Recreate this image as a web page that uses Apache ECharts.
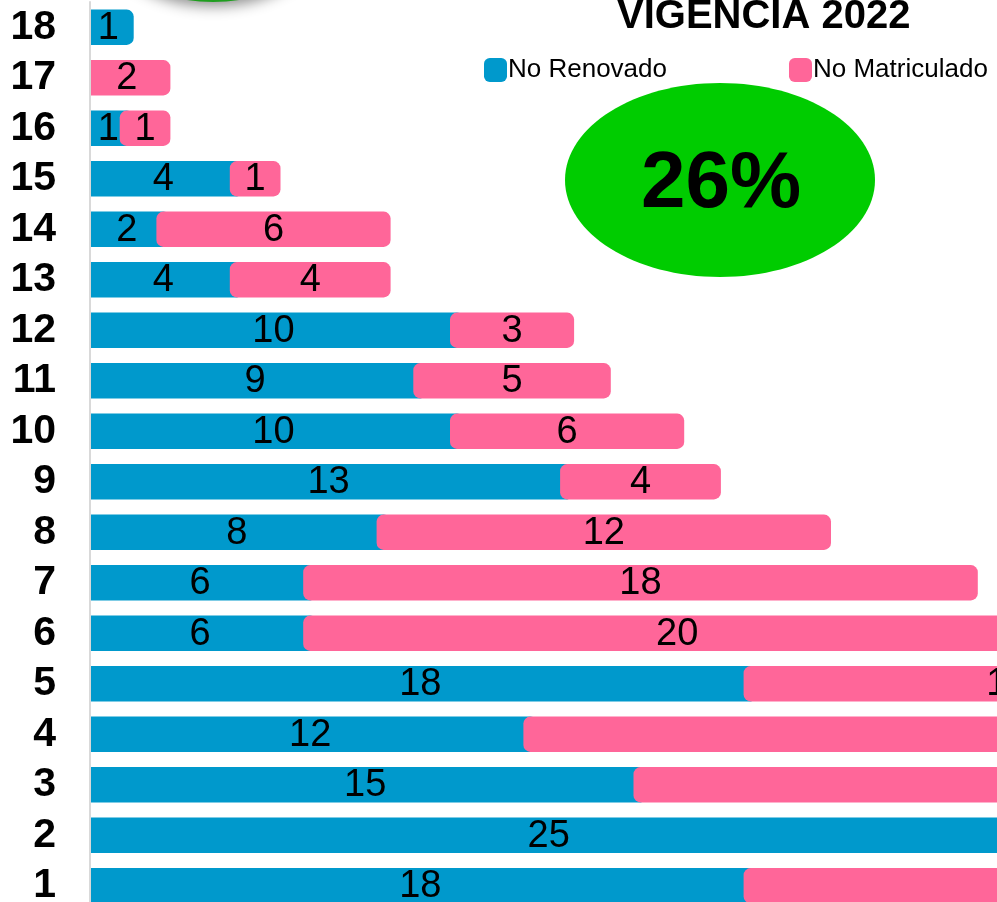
<!DOCTYPE html>
<html>
<head>
<meta charset="utf-8">
<script src="https://cdn.jsdelivr.net/npm/echarts@6/dist/echarts.min.js"></script>
<style>
  html, body { margin: 0; padding: 0; background: #fff; }
  #chart { width: 997px; height: 902px; }
</style>
</head>
<body>
<div id="chart"></div>
<script>
// categories from bottom (1) to top (18)
var categories = ['1','2','3','4','5','6','7','8','9','10','11','12','13','14','15','16','17','18'];
var noRenovado = [18, 25, 15, 12, 18, 6, 6, 8, 13, 10, 9, 10, 4, 2, 4, 1, null, 1];
// values for 1, 3, 4 run off the picture; estimated
var noMatriculado = [17, null, 22, 28, 14, 20, 18, 12, 4, 6, 5, 3, 4, 6, 1, 1, 2, null];
var titleText = 'VIGENCIA 2022';
var percentText = '26%';

var blue = '#0099CC';
var pink = '#FF6699';
var font = '"Liberation Sans", Arial, sans-serif';

// [category index, start, end, value]
function stackData(values, bases) {
  var out = [];
  for (var i = 0; i < values.length; i++) {
    if (values[i] == null) continue;
    var b = bases ? (bases[i] || 0) : 0;
    out.push([i, b, b + values[i], values[i]]);
  }
  return out;
}

function renderBar(color) {
  return function (params, api) {
    var ci = api.value(0), s = api.value(1), e = api.value(2);
    var p0 = api.coord([s, ci]);
    var p1 = api.coord([e, ci]);
    var h = api.size([0, 1])[1] * 0.70;
    // office-style rounded bars spill a few px past their value
    var x0 = s === 0 ? p0[0] : p0[0] - 7;
    var x1 = p1[0] + 7;
    return {
      type: 'group',
      children: [
        {
          type: 'rect',
          shape: { x: x0, y: p0[1] - h / 2, width: x1 - x0, height: h, r: s === 0 ? [0, 7, 7, 0] : 7 },
          style: { fill: color }
        },
        {
          type: 'text',
          x: (p0[0] + p1[0]) / 2,
          y: p0[1] + 1,
          style: {
            text: String(api.value(3)),
            fontFamily: font,
            fontSize: 38,
            fill: '#000',
            align: 'center',
            verticalAlign: 'middle'
          }
        }
      ]
    };
  };
}

var chart = echarts.init(document.getElementById('chart'));

chart.setOption({
  animation: false,
  title: {
    text: titleText,
    left: 612,
    top: -8,
    textStyle: { fontFamily: font, fontSize: 40, fontWeight: 'bold', color: '#000' }
  },
  legend: {
    left: 479,
    top: 52,
    width: 560,
    itemWidth: 23,
    itemHeight: 24,
    itemGap: 122,
    icon: 'roundRect',
    textStyle: { fontFamily: font, fontSize: 26, color: '#000', padding: [0, 0, 0, -4] },
    data: ['No Renovado', 'No Matriculado']
  },
  grid: { left: 90, width: 1101, top: 2, height: 909, containLabel: false, outerBoundsMode: 'none' },
  xAxis: {
    type: 'value',
    min: 0,
    max: 30,
    show: false
  },
  yAxis: {
    type: 'category',
    data: categories,
    z: 10,
    axisLine: { show: true, lineStyle: { color: '#d9d9d9', width: 2 } },
    axisTick: { show: false },
    axisLabel: {
      interval: 0,
      margin: 34,
      fontFamily: font,
      fontSize: 41,
      fontWeight: 'bold',
      color: '#000'
    },
    splitLine: { show: false }
  },
  graphic: [
    {
      type: 'ellipse',
      z: 20,
      shape: { cx: 213, cy: -62, rx: 105, ry: 64 },
      style: {
        fill: '#1f9e1f',
        shadowBlur: 14,
        shadowColor: 'rgba(0,0,0,0.45)',
        shadowOffsetY: 4
      }
    },
    {
      type: 'ellipse',
      z: 20,
      shape: { cx: 720, cy: 180, rx: 155, ry: 97 },
      style: { fill: '#00CC00' }
    },
    {
      type: 'text',
      z: 21,
      x: 721,
      y: 185,
      style: {
        text: percentText,
        fontFamily: font,
        fontSize: 80,
        fontWeight: 'bold',
        fill: '#000',
        align: 'center',
        verticalAlign: 'middle'
      }
    }
  ],
  series: [
    {
      name: 'No Renovado',
      type: 'custom',
      itemStyle: { color: blue },
      encode: { x: [1, 2], y: 0 },
      renderItem: renderBar(blue),
      data: stackData(noRenovado)
    },
    {
      name: 'No Matriculado',
      type: 'custom',
      itemStyle: { color: pink },
      encode: { x: [1, 2], y: 0 },
      renderItem: renderBar(pink),
      data: stackData(noMatriculado, noRenovado)
    }
  ]
});
</script>
</body>
</html>
